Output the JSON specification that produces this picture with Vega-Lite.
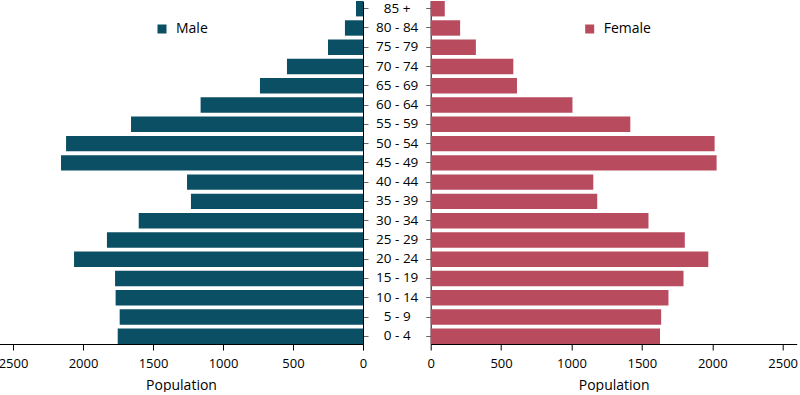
{
  "$schema": "https://vega.github.io/schema/vega-lite/v6.json",
  "padding": {"left": -2, "top": 1, "right": 0, "bottom": 0},
  "background": "white",
  "config": {"view": {"stroke": null}, "font": "Open Sans"},
  "bounds": "flush",
  "spacing": 67.7,
  "data": {"values": [
    {"age": "85 +", "sex": "Male", "pop": 50}, {"age": "85 +", "sex": "Female", "pop": 100},
    {"age": "80 - 84", "sex": "Male", "pop": 129}, {"age": "80 - 84", "sex": "Female", "pop": 209},
    {"age": "75 - 79", "sex": "Male", "pop": 250}, {"age": "75 - 79", "sex": "Female", "pop": 321},
    {"age": "70 - 74", "sex": "Male", "pop": 543}, {"age": "70 - 74", "sex": "Female", "pop": 587},
    {"age": "65 - 69", "sex": "Male", "pop": 736}, {"age": "65 - 69", "sex": "Female", "pop": 613},
    {"age": "60 - 64", "sex": "Male", "pop": 1160}, {"age": "60 - 64", "sex": "Female", "pop": 1007},
    {"age": "55 - 59", "sex": "Male", "pop": 1657}, {"age": "55 - 59", "sex": "Female", "pop": 1418},
    {"age": "50 - 54", "sex": "Male", "pop": 2121}, {"age": "50 - 54", "sex": "Female", "pop": 2017},
    {"age": "45 - 49", "sex": "Male", "pop": 2157}, {"age": "45 - 49", "sex": "Female", "pop": 2031},
    {"age": "40 - 44", "sex": "Male", "pop": 1257}, {"age": "40 - 44", "sex": "Female", "pop": 1155},
    {"age": "35 - 39", "sex": "Male", "pop": 1229}, {"age": "35 - 39", "sex": "Female", "pop": 1183},
    {"age": "30 - 34", "sex": "Male", "pop": 1602}, {"age": "30 - 34", "sex": "Female", "pop": 1547},
    {"age": "25 - 29", "sex": "Male", "pop": 1829}, {"age": "25 - 29", "sex": "Female", "pop": 1805},
    {"age": "20 - 24", "sex": "Male", "pop": 2064}, {"age": "20 - 24", "sex": "Female", "pop": 1972},
    {"age": "15 - 19", "sex": "Male", "pop": 1771}, {"age": "15 - 19", "sex": "Female", "pop": 1796},
    {"age": "10 - 14", "sex": "Male", "pop": 1767}, {"age": "10 - 14", "sex": "Female", "pop": 1689},
    {"age": "5 - 9", "sex": "Male", "pop": 1738}, {"age": "5 - 9", "sex": "Female", "pop": 1637},
    {"age": "0 - 4", "sex": "Male", "pop": 1752}, {"age": "0 - 4", "sex": "Female", "pop": 1629}
  ]},
  "hconcat": [
    {
      "width": 364, "height": 343,
      "transform": [{"filter": "datum.sex === 'Male'"}],
      "mark": {"type": "bar"},
      "encoding": {
        "y": {"field": "age", "type": "nominal",
          "sort": ["85 +", "80 - 84", "75 - 79", "70 - 74", "65 - 69", "60 - 64", "55 - 59", "50 - 54", "45 - 49", "40 - 44", "35 - 39", "30 - 34", "25 - 29", "20 - 24", "15 - 19", "10 - 14", "5 - 9", "0 - 4"],
          "scale": {"paddingInner": 0.2, "paddingOuter": 0},
          "axis": {"orient": "right", "title": null, "labelAlign": "center", "labelPadding": 28.7, "tickSize": 5, "labelFontSize": 13.5, "labelColor": "black", "tickColor": "#666", "domainColor": "black", "labelFont": "Open Sans"}},
        "x": {"field": "pop", "type": "quantitative",
          "scale": {"domain": [0, 2600], "reverse": true, "nice": false},
          "axis": {"values": [0, 500, 1000, 1500, 2000, 2500], "format": "d", "grid": false, "title": "Population", "labelFlush": false, "labelFontSize": 13, "labelColor": "black", "tickColor": "black", "domainColor": "black", "tickSize": 6, "labelPadding": 7, "titleFontSize": 14, "titleFontWeight": "normal", "titleColor": "black", "titlePadding": 8}},
        "color": {"field": "sex", "type": "nominal",
          "scale": {"domain": ["Male"], "range": ["#0b4f64"]},
          "legend": {"orient": "none", "legendX": 156, "legendY": 21, "title": null, "padding": 0, "symbolType": "square", "symbolSize": 81, "symbolStrokeWidth": 0, "labelFontSize": 14, "labelColor": "black", "labelOffset": 7}}
      }
    },
    {
      "width": 366, "height": 343,
      "transform": [{"filter": "datum.sex === 'Female'"}],
      "mark": {"type": "bar"},
      "encoding": {
        "y": {"field": "age", "type": "nominal",
          "sort": ["85 +", "80 - 84", "75 - 79", "70 - 74", "65 - 69", "60 - 64", "55 - 59", "50 - 54", "45 - 49", "40 - 44", "35 - 39", "30 - 34", "25 - 29", "20 - 24", "15 - 19", "10 - 14", "5 - 9", "0 - 4"],
          "scale": {"paddingInner": 0.2, "paddingOuter": 0},
          "axis": {"orient": "left", "title": null, "labels": false, "tickSize": 5, "tickColor": "#666", "domainColor": "black"}},
        "x": {"field": "pop", "type": "quantitative",
          "scale": {"domain": [0, 2600], "nice": false},
          "axis": {"values": [0, 500, 1000, 1500, 2000, 2500], "format": "d", "grid": false, "title": "Population", "labelFlush": false, "labelFontSize": 13, "labelColor": "black", "tickColor": "black", "domainColor": "black", "tickSize": 6, "labelPadding": 7, "titleFontSize": 14, "titleFontWeight": "normal", "titleColor": "black", "titlePadding": 8}},
        "color": {"field": "sex", "type": "nominal",
          "scale": {"domain": ["Female"], "range": ["#b84c5e"]},
          "legend": {"orient": "none", "legendX": 152, "legendY": 21, "title": null, "padding": 0, "symbolType": "square", "symbolSize": 81, "symbolStrokeWidth": 0, "labelFontSize": 14, "labelColor": "black", "labelOffset": 7}}
      }
    }
  ],
  "resolve": {"scale": {"color": "independent", "y": "independent", "x": "independent"}, "legend": {"color": "independent"}}
}
